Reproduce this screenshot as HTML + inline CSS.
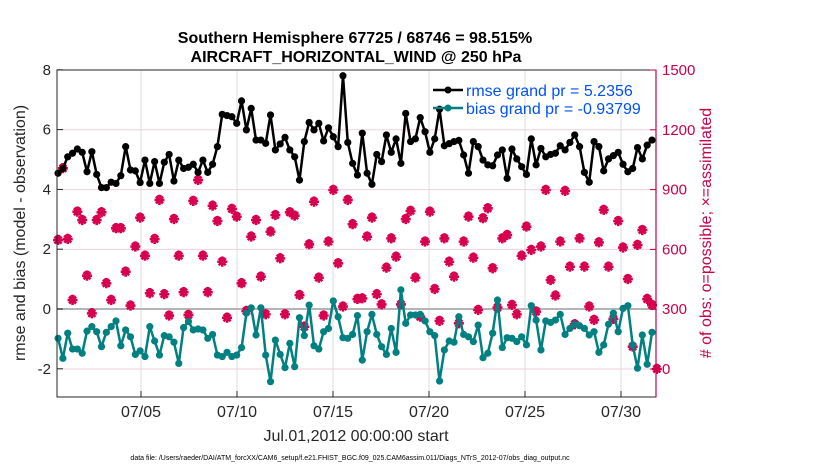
<!DOCTYPE html>
<html><head><meta charset="utf-8">
<style>
body{margin:0;background:#fff;}
svg{display:block;font-family:"Liberation Sans",Arial,sans-serif;}
</style></head>
<body>
<svg id="chart" width="830" height="470" viewBox="0 0 830 470">
<rect width="830" height="470" fill="#fff"/>
<text x="355" y="43" text-anchor="middle" font-size="16" font-weight="bold">Southern Hemisphere 67725 / 68746 = 98.515%</text>
<text x="356" y="62" text-anchor="middle" font-size="16" font-weight="bold">AIRCRAFT_HORIZONTAL_WIND @ 250 hPa</text>
<g id="grid"></g>
<g id="obs"></g>
<g id="lines"></g>
<rect x="57" y="70" width="599" height="327" fill="none" stroke="#262626" stroke-width="1"/>
<line x1="656" y1="70" x2="656" y2="397" stroke="#c8004a" stroke-width="1.2"/>
<g id="axes"></g>
<text transform="translate(25,233) rotate(-90)" text-anchor="middle" font-size="16" fill="#262626">rmse and bias (model - observation)</text>
<text transform="translate(711,233) rotate(-90)" text-anchor="middle" font-size="16" fill="#c8004a"># of obs: o=possible; ×=assimilated</text>
<text x="356" y="441" text-anchor="middle" font-size="16" fill="#262626">Jul.01,2012 00:00:00 start</text>
<text x="350" y="460" text-anchor="middle" font-size="7" fill="#000">data file: /Users/raeder/DAI/ATM_forcXX/CAM6_setup/f.e21.FHIST_BGC.f09_025.CAM6assim.011/Diags_NTrS_2012-07/obs_diag_output.nc</text>
<g>
<line x1="433" y1="90" x2="463" y2="90" stroke="#000" stroke-width="2.5"/>
<circle cx="448" cy="90" r="3.5" fill="#000"/>
<text x="466" y="96" font-size="16" fill="#0050ff">rmse grand pr = 5.2356</text>
<line x1="433" y1="108" x2="463" y2="108" stroke="#008080" stroke-width="2.5"/>
<circle cx="448" cy="108" r="3.5" fill="#008080"/>
<text x="466" y="114" font-size="16" fill="#0050ff">bias grand pr = -0.93799</text>
</g>
</svg>
<script>
const rmse=[4.54,4.70,5.09,5.21,5.35,5.24,4.59,5.26,4.50,4.06,4.06,4.24,4.20,4.46,5.43,4.65,4.62,4.23,4.98,4.20,4.93,4.20,4.91,5.17,4.28,4.98,4.70,4.74,4.84,4.57,4.98,4.57,
4.84,5.43,6.51,6.47,6.43,6.21,6.96,5.99,6.71,5.65,5.65,5.54,6.49,5.32,5.52,5.74,5.32,5.09,4.31,5.60,6.24,5.99,6.21,5.62,6.06,5.76,5.43,7.80,5.57,4.87,4.48,
5.88,4.54,4.17,5.17,4.93,5.82,5.24,5.69,4.87,6.54,5.60,5.69,6.40,5.93,5.24,5.69,6.68,5.46,5.53,5.60,5.64,5.15,4.54,5.60,5.43,4.98,4.82,4.79,5.15,5.32,4.37,
5.35,5.02,4.76,4.50,5.69,4.82,5.37,5.09,5.17,5.21,5.46,5.32,5.57,5.82,5.43,4.57,4.24,5.60,5.43,4.62,5.02,5.13,5.24,4.84,4.59,4.70,5.40,5.02,5.48,5.65];
const bias=[-0.98,-1.65,-0.81,-1.34,-1.34,-1.48,-0.74,-0.59,-0.76,-1.26,-0.78,-0.59,-0.40,-1.23,-0.70,-0.93,-1.52,-1.40,-1.59,-0.59,-1.07,-1.54,-0.89,-0.93,-1.11,-1.82,-0.62,-0.42,-0.70,-0.67,-0.70,-0.98,
-0.85,-1.54,-1.59,-1.45,-1.59,-1.54,-1.29,-0.14,0.04,-0.87,0.04,-1.54,-2.43,-1.04,-1.52,-1.96,-1.15,-1.93,-0.29,-0.89,0.13,-1.23,-1.34,-0.76,-0.65,0.27,-0.26,-0.96,-0.98,-0.85,-0.22,
-1.71,-0.76,-0.18,-0.85,-1.26,-1.52,-0.65,-1.45,0.64,-0.48,-0.20,-0.20,-0.18,-0.40,-0.76,-0.89,-2.41,-1.37,-1.07,-1.11,-0.26,-0.85,-0.93,-1.09,-0.54,-1.63,-1.48,-0.81,0.30,-1.29,-0.96,
-0.98,-1.09,-0.93,-1.20,0.11,-0.37,-1.37,-0.40,-0.45,-0.37,-0.18,-0.85,-0.65,-0.51,-0.56,-0.65,-0.87,-0.76,-1.45,-1.20,-0.51,-0.14,-0.76,0.02,0.11,-1.20,-1.98,-0.87,-1.85,-0.78];
const nAssim=[647,1007,652,346,789,747,468,279,747,786,430,346,706,706,488,318,614,759,568,380,652,848,375,268,752,568,385,271,843,948,568,385,
819,742,538,257,803,764,430,291,664,747,463,274,689,772,555,274,786,769,371,212,625,839,458,268,639,898,530,313,848,726,351,
354,664,759,375,324,508,655,563,324,752,793,458,262,639,789,401,241,655,538,463,229,639,764,558,296,756,806,505,308,655,672,
321,274,568,714,597,288,614,898,446,368,639,893,513,224,655,513,313,246,635,798,513,251,742,609,451,112,622,697,351,321,0];
const nPossible=nAssim.map(function(v,i){return v;});
const leftTicks=[-2,0,2,4,6,8];
const rightTicks=[0,300,600,900,1200,1500];
const xTickDays=[4,9,14,19,24,29];
const xTickLabels=["07/05","07/10","07/15","07/20","07/25","07/30"];
const dayStart=-0.32, dayStep=0.2515;

const NS="http://www.w3.org/2000/svg";
function xS(d){return 64.2+d*19.2;}
function yL(v){return 309-v*29.9;}
function yR(c){return 369-c*299/1500;}
function mk(tag,attrs,parent){const e=document.createElementNS(NS,tag);for(const k in attrs)e.setAttribute(k,attrs[k]);parent.appendChild(e);return e;}
const grid=document.getElementById('grid'),obs=document.getElementById('obs'),lines=document.getElementById('lines'),axes=document.getElementById('axes');

rightTicks.forEach(function(t){
  const g=mk('line',{x1:57,x2:656,y1:yR(t),y2:yR(t),stroke:'#f3cfdc','stroke-width':1},grid);
  
  
  const tk=mk('line',{x1:650,x2:656,y1:yR(t),y2:yR(t),stroke:'#c8004a','stroke-width':1},axes);
  
  
  const tx=mk('text',{x:662,y:yR(t)+5,'font-size':15,fill:'#c8004a'},axes);
  tx.textContent=t;
  
  
});
xTickDays.forEach(function(d,i){
  const g=mk('line',{x1:xS(d),x2:xS(d),y1:70,y2:397,stroke:'#dcdcdc','stroke-width':1},grid);
  
  
  const tk=mk('line',{x1:xS(d),x2:xS(d),y1:391,y2:397,stroke:'#262626'},axes);
  
  
  const tx=mk('text',{x:xS(d),y:417,'font-size':16,'text-anchor':'middle',fill:'#262626'},axes);
  tx.textContent=xTickLabels[i];
  
  
});
const zl=mk('line',{x1:57,x2:656,y1:yL(0),y2:yL(0),stroke:'#b4b4b4','stroke-width':2},grid);


leftTicks.forEach(function(t){
  const tk=mk('line',{x1:57,x2:63,y1:yL(t),y2:yL(t),stroke:'#262626'},axes);
  
  
  const tx=mk('text',{x:51,y:yL(t)+5,'font-size':15,'text-anchor':'end',fill:'#262626'},axes);
  tx.textContent=t;
  
  
});
function dx(i){return xS(dayStart+i*dayStep);}
nPossible.forEach(function(c,i){
  const x=dx(i),y=yR(c);
  if(x>657)return;
  const o=mk('circle',{cx:x,cy:y-2,r:2.6,fill:'none',stroke:'#d6004f','stroke-width':1.5},obs);
  
  
});
nAssim.forEach(function(c,i){
  const x=dx(i),y=yR(c);
  if(x>657)return;
  const s=mk('path',{d:'M'+(x-5)+' '+y+'h10M'+x+' '+(y-5)+'v10M'+(x-3.5)+' '+(y-3.5)+'l7 7M'+(x+3.5)+' '+(y-3.5)+'l-7 7',stroke:'#d6004f','stroke-width':2.6,fill:'none'},obs);
  
  
});
function series(arr,color,name){
  const pts=arr.map(function(v,i){return dx(i).toFixed(1)+','+yL(v).toFixed(1);}).join(' ');
  const pl=mk('polyline',{points:pts,fill:'none',stroke:color,'stroke-width':2.5,'stroke-linejoin':'round'},lines);
  
  
  arr.forEach(function(v,i){
    const c=mk('circle',{cx:dx(i),cy:yL(v),r:3.6,fill:color},lines);
    
    
  });
}
series(rmse,'#000','rmse');
series(bias,'#008080','bias');
</script>
</body></html>
